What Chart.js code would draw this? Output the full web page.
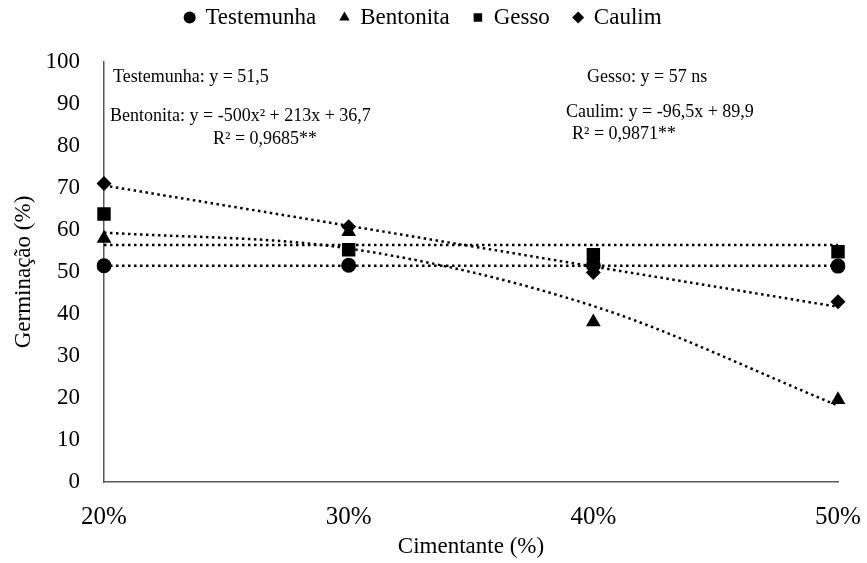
<!DOCTYPE html>
<html>
<head>
<meta charset="utf-8">
<script src="https://cdn.jsdelivr.net/npm/chart.js@4/dist/chart.umd.min.js"></script>
<style>
  html, body { margin: 0; padding: 0; background: #fff; }
  #wrap { width: 867px; height: 563px; position: relative; }
</style>
</head>
<body>
<div id="wrap"><canvas id="chart"></canvas></div>
<script>
// categories
const doses = ['20%', '30%', '40%', '50%']
const yTicks = [0, 10, 20, 30, 40, 50, 60, 70, 80, 90, 100]

// observed values
const testemunha = [51.5, 51.6, 51.6, 51.4]
const bentonita = [58.0, 59.6, 38.1, 19.6]
const gesso = [63.8, 55.3, 54.1, 54.8]
const caulim = [71.1, 60.8, 49.9, 42.9]

// trend lines
const trendTestemunha = [51.5, 51.5, 51.5, 51.5]
const trendBentonita = [59.4, 55.6, 41.9, 18.2]
const trendGesso = [56.4, 56.4, 56.4, 56.4]
const trendCaulim = [70.6, 61.0, 51.3, 41.7]

const FONT = "'Liberation Serif', 'Times New Roman', serif"
const TOP_PAD = -18

Chart.defaults.font.family = FONT
Chart.defaults.color = '#000'

const pointSet = (label, data, style, radius) => ({
  label: label,
  data: data,
  showLine: false,
  pointStyle: style,
  pointRadius: radius,
  pointHoverRadius: radius,
  pointBackgroundColor: '#000',
  pointBorderColor: '#000',
  pointBorderWidth: 0,
  backgroundColor: '#000',
  borderColor: '#000',
  order: 1
})

const trendSet = (data, curved) => ({
  label: 'trend',
  data: data,
  borderColor: '#000',
  borderWidth: 2.5,
  borderDash: [2.5, 3.5],
  pointRadius: 0,
  fill: false,
  cubicInterpolationMode: curved ? 'monotone' : 'default',
  tension: 0,
  order: 2
})

// leave some room between the legend and the plot, nudge it a bit
const legendTweak = {
  id: 'legendTweak',
  beforeInit(chart) {
    const lg = chart.legend
    const fit = lg.fit
    lg.fit = function () {
      fit.bind(lg)()
      this.height = 62 - TOP_PAD
    }
    const draw = lg.draw
    lg.draw = function () {
      chart.ctx.save()
      chart.ctx.translate(-9, 0)
      draw.bind(lg)()
      chart.ctx.restore()
    }
  }
}

// equation texts drawn inside the plot
const equations = {
  id: 'equations',
  afterDatasetsDraw(chart) {
    const ctx = chart.ctx
    const a = chart.chartArea
    ctx.save()
    ctx.fillStyle = '#000'
    ctx.font = '18px ' + FONT
    ctx.textBaseline = 'middle'
    ctx.textAlign = 'left'
    ctx.fillText('Testemunha: y = 51,5', a.left + 9, a.top + 15)
    ctx.fillText('Bentonita: y = -500x\u00b2 + 213x + 36,7', a.left + 6, a.top + 54)
    ctx.fillText('Gesso: y = 57 ns', a.left + 483, a.top + 15)
    ctx.fillText('Caulim: y = -96,5x + 89,9', a.left + 462, a.top + 50)
    ctx.textAlign = 'center'
    ctx.fillText('R\u00b2 = 0,9685**', a.left + 161, a.top + 77)
    ctx.fillText('R\u00b2 = 0,9871**', a.left + 520, a.top + 72)
    ctx.restore()
  }
}

new Chart(document.getElementById('chart').getContext('2d'), {
  type: 'line',
  data: {
    labels: doses,
    datasets: [
      pointSet('Testemunha', testemunha, 'circle', 7.5),
      pointSet('Bentonita', bentonita, 'triangle', 8.5),
      pointSet('Gesso', gesso, 'rect', 9.5),
      pointSet('Caulim', caulim, 'rectRot', 7.5),
      trendSet(trendTestemunha, false),
      trendSet(trendBentonita, true),
      trendSet(trendGesso, false),
      trendSet(trendCaulim, false)
    ]
  },
  options: {
    responsive: true,
    maintainAspectRatio: false,
    animation: false,
    layout: { padding: { left: 4, right: 6, top: TOP_PAD, bottom: 0 } },
    plugins: {
      tooltip: { enabled: false },
      legend: {
        display: true,
        position: 'top',
        labels: {
          filter: (item) => item.text !== 'trend',
          usePointStyle: true,
          boxWidth: 8.5,
          boxHeight: 8.5,
          padding: 24,
          color: '#000',
          font: { family: FONT, size: 23 }
        }
      }
    },
    scales: {
      x: {
        type: 'category',
        offset: false,
        afterFit: (scale) => {
          scale.height = 81
          scale.paddingLeft = 0
          scale.paddingRight = 29
        },
        grid: { display: false, drawTicks: false },
        border: { display: true, color: '#595959', width: 1.5 },
        ticks: { color: '#000', padding: 20, font: { family: FONT, size: 25 }, maxRotation: 0 },
        title: { display: true, text: 'Cimentante (%)', color: '#000', font: { family: FONT, size: 23 }, padding: { top: 0, bottom: 2 } }
      },
      y: {
        min: 0,
        max: 100,
        afterBuildTicks: (scale) => { scale.ticks = yTicks.map(v => ({ value: v })) },
        afterFit: (scale) => { scale.width = 100 },
        grid: { display: false, drawTicks: false },
        border: { display: true, color: '#595959', width: 1.5 },
        ticks: { color: '#000', padding: 24, font: { family: FONT, size: 23 } },
        title: { display: true, text: 'Germinação (%)', color: '#000', font: { family: FONT, size: 23 }, padding: { top: 6, bottom: 0 } }
      }
    }
  },
  plugins: [legendTweak, equations]
})
</script>
</body>
</html>
